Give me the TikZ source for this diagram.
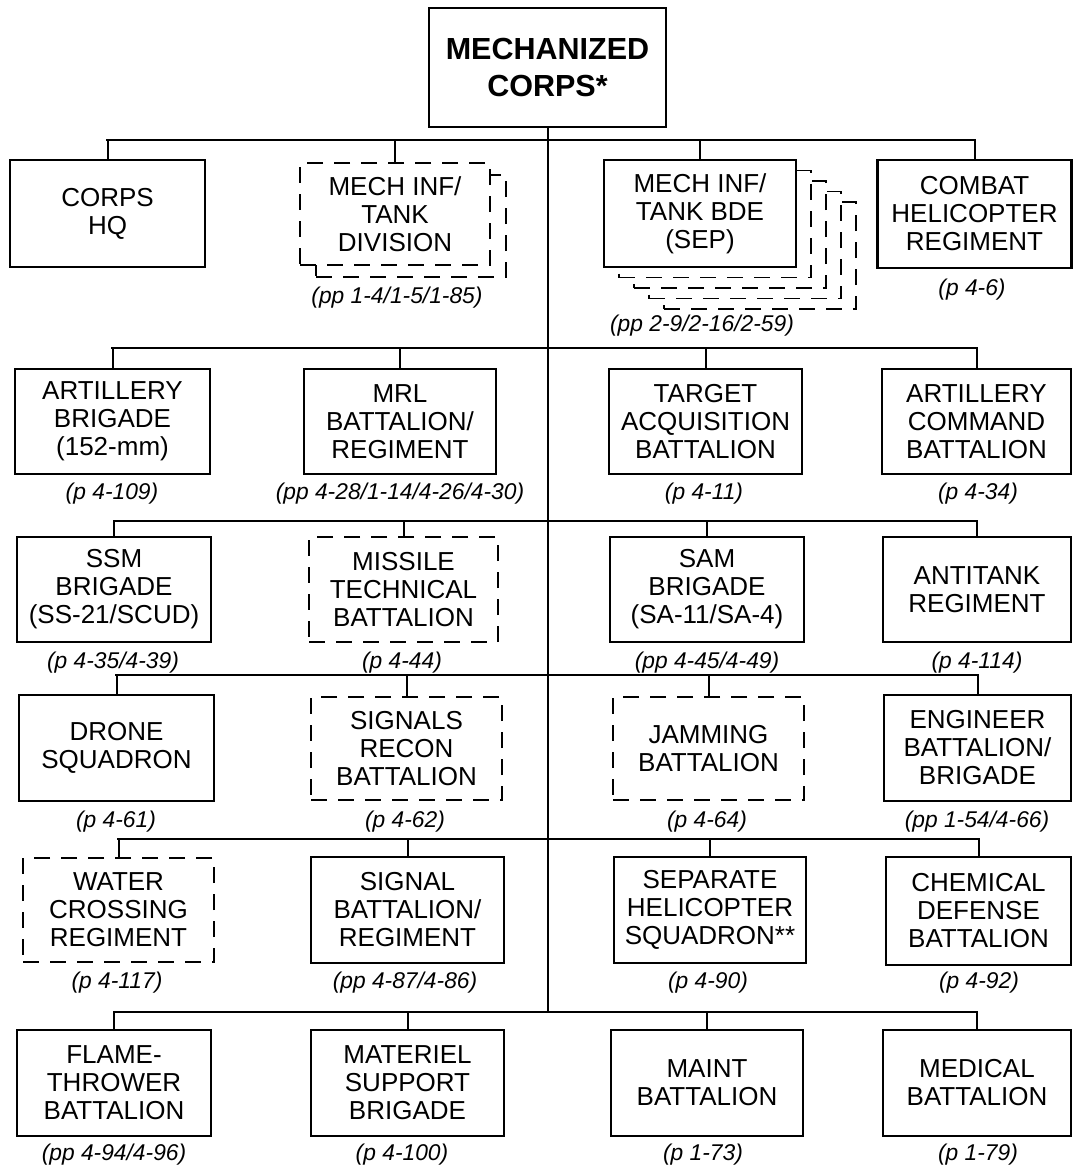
\documentclass[tikz,border=0pt]{standalone}
\usepackage{fontspec}
\setmainfont{Liberation Sans}
\newcommand\boxfont{\fontsize{26}{28}\selectfont}
\newcommand\topfont{\fontsize{30.5}{37}\selectfont\bfseries}
\newcommand\reffont{\fontsize{22.8}{26}\selectfont\itshape}
\begin{document}
\begin{tikzpicture}[x=1pt,y=-1pt,
  sbox/.style={draw, line width=2.7pt, fill=white, inner sep=0pt, align=center, font=\boxfont},
  dbox/.style={draw, line width=1.1pt, dash pattern=on 16pt off 11pt, fill=white, inner sep=0pt, align=center, font=\boxfont},
  refl/.style={font=\reffont, inner sep=0pt},
  link/.style={line width=2pt},
  barl/.style={line width=2.8pt, line cap=rect}]
\useasboundingbox (0,0) rectangle (1073,1168);

% top
\node[sbox, font=\topfont, minimum width=237pt, minimum height=119pt] (top) at (547.5,67.5) {MECHANIZED\\CORPS*};

% row 1
\node[sbox, minimum width=195pt, minimum height=107pt] (hq) at (107.5,213.5) {CORPS\\HQ};
\node[dbox, minimum width=190pt, minimum height=102pt] (divb) at (411,226) {};
\node[dbox, minimum width=190pt, minimum height=102pt] (div) at (395,214) {MECH INF/\\TANK\\DIVISION};
\node[dbox, minimum width=192pt, minimum height=107pt] (bde4) at (760,255.5) {};
\node[dbox, minimum width=192pt, minimum height=107pt] (bde3) at (745,245) {};
\node[dbox, minimum width=192pt, minimum height=107pt] (bde2) at (730,234.5) {};
\node[dbox, minimum width=192pt, minimum height=107pt] (bde1) at (715,224) {};
\node[sbox, minimum width=192pt, minimum height=107pt] (bde) at (700,213.5) {MECH INF/\\TANK BDE\\(SEP)};
\node[sbox, minimum width=194pt, minimum height=108pt] (cmb) at (974.5,214) {COMBAT\\HELICOPTER\\REGIMENT};
\node[refl] (ldiv) at (397,298) {(pp 1-4/1-5/1-85)};
\node[refl] (lbde) at (702,326) {(pp 2-9/2-16/2-59)};
\node[refl] (lcmb) at (972,290) {(p 4-6)};

% row 2
\node[sbox, minimum width=195pt, minimum height=105pt] (art) at (112.5,421.5) {ARTILLERY\\BRIGADE\\(152-mm)};
\node[sbox, minimum width=192pt, minimum height=105pt] (mrl) at (400,421.5) {MRL\\BATTALION/\\REGIMENT};
\node[sbox, minimum width=193pt, minimum height=105pt] (tgt) at (705.5,421.5) {TARGET\\ACQUISITION\\BATTALION};
\node[sbox, minimum width=189pt, minimum height=105pt] (acmd) at (976.5,421.5) {ARTILLERY\\COMMAND\\BATTALION};
\node[refl] (lart) at (112,494) {(p 4-109)};
\node[refl] (lmrl) at (400,494) {(pp 4-28/1-14/4-26/4-30)};
\node[refl] (ltgt) at (704,494) {(p 4-11)};
\node[refl] (lacmd) at (978,494) {(p 4-34)};

% row 3
\node[sbox, minimum width=194pt, minimum height=105pt] (ssm) at (114,589.5) {SSM\\BRIGADE\\(SS-21/SCUD)};
\node[dbox, minimum width=189pt, minimum height=105pt] (msl) at (403.5,589.5) {MISSILE\\TECHNICAL\\BATTALION};
\node[sbox, minimum width=194pt, minimum height=105pt] (sam) at (707,589.5) {SAM\\BRIGADE\\(SA-11/SA-4)};
\node[sbox, minimum width=188pt, minimum height=105pt] (atk) at (977,589.5) {ANTITANK\\REGIMENT};
\node[refl] (lssm) at (113,663) {(p 4-35/4-39)};
\node[refl] (lmsl) at (402,663) {(p 4-44)};
\node[refl] (lsam) at (707,663) {(pp 4-45/4-49)};
\node[refl] (latk) at (977,663) {(p 4-114)};

% row 4
\node[sbox, minimum width=195pt, minimum height=106pt] (drn) at (116.5,748) {DRONE\\SQUADRON};
\node[dbox, minimum width=191pt, minimum height=103pt] (sgr) at (406.5,748.5) {SIGNALS\\RECON\\BATTALION};
\node[dbox, minimum width=191pt, minimum height=103pt] (jam) at (708.5,748.5) {JAMMING\\BATTALION};
\node[sbox, minimum width=187pt, minimum height=106pt] (eng) at (977.5,748) {ENGINEER\\BATTALION/\\BRIGADE};
\node[refl] (ldrn) at (116,822) {(p 4-61)};
\node[refl] (lsgr) at (405,822) {(p 4-62)};
\node[refl] (ljam) at (707,822) {(p 4-64)};
\node[refl] (leng) at (977,822) {(pp 1-54/4-66)};

% row 5
\node[dbox, minimum width=191pt, minimum height=104pt] (wtr) at (118.5,910) {WATER\\CROSSING\\REGIMENT};
\node[sbox, minimum width=193pt, minimum height=106pt] (sig) at (407.5,910) {SIGNAL\\BATTALION/\\REGIMENT};
\node[sbox, minimum width=192pt, minimum height=106pt] (sep) at (710,910) {SEPARATE\\HELICOPTER\\SQUADRON**};
\node[sbox, minimum width=185pt, minimum height=108pt] (chm) at (978.5,911) {CHEMICAL\\DEFENSE\\BATTALION};
\node[refl] (lwtr) at (117,983) {(p 4-117)};
\node[refl] (lsig) at (405,983) {(pp 4-87/4-86)};
\node[refl] (lsep) at (708,983) {(p 4-90)};
\node[refl] (lchm) at (979,983) {(p 4-92)};

% row 6
\node[sbox, minimum width=194pt, minimum height=106pt] (flm) at (114,1083) {FLAME-\\THROWER\\BATTALION};
\node[sbox, minimum width=193pt, minimum height=106pt] (mat) at (407.5,1083) {MATERIEL\\SUPPORT\\BRIGADE};
\node[sbox, minimum width=192pt, minimum height=106pt] (mnt) at (707,1083) {MAINT\\BATTALION};
\node[sbox, minimum width=188pt, minimum height=106pt] (med) at (977,1083) {MEDICAL\\BATTALION};
\node[refl] (lflm) at (114,1155) {(pp 4-94/4-96)};
\node[refl] (lmat) at (402,1155) {(p 4-100)};
\node[refl] (lmnt) at (703,1155) {(p 1-73)};
\node[refl] (lmed) at (978,1155) {(p 1-79)};

% bar levels
\coordinate (b1) at (547,140);
\coordinate (b2) at (547,348);
\coordinate (b3) at (547,521);
\coordinate (b4) at (547,675);
\coordinate (b5) at (547,839);
\coordinate (b6) at (547,1012);

% spine
\draw[link] (top.south) -- (top.south |- b6);

% bars
\draw[barl] (hq.north |- b1) -- (cmb.north |- b1);
\draw[barl] (art.north |- b2) -- (acmd.north |- b2);
\draw[barl] (ssm.north |- b3) -- (atk.north |- b3);
\draw[barl] (drn.north |- b4) -- (eng.north |- b4);
\draw[barl] (wtr.north |- b5) -- (chm.north |- b5);
\draw[barl] (flm.north |- b6) -- (med.north |- b6);

% drops
\foreach \n/\b in {hq/b1,div/b1,bde/b1,cmb/b1,
                   art/b2,mrl/b2,tgt/b2,acmd/b2,
                   ssm/b3,msl/b3,sam/b3,atk/b3,
                   drn/b4,sgr/b4,jam/b4,eng/b4,
                   wtr/b5,sig/b5,sep/b5,chm/b5,
                   flm/b6,mat/b6,mnt/b6,med/b6}
  \draw[link] (\n.north |- \b) -- (\n.north);
\end{tikzpicture}
\end{document}
